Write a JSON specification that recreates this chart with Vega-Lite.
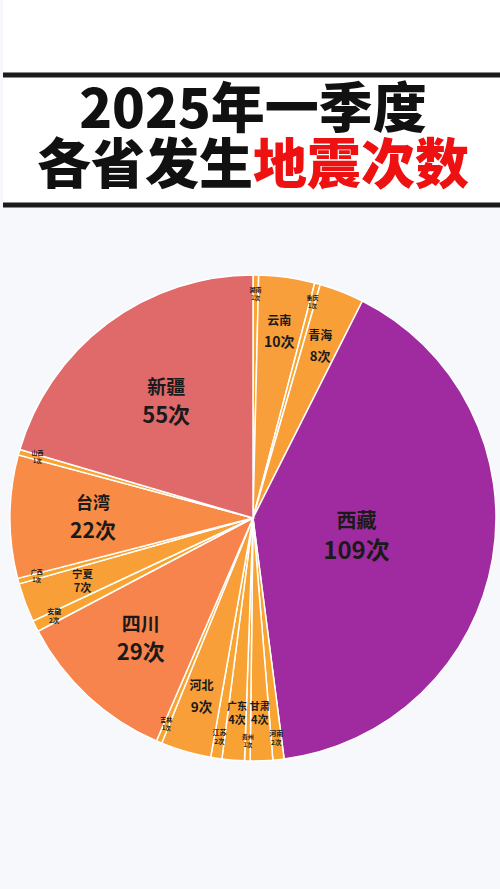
{
  "$schema": "https://vega.github.io/schema/vega-lite/v6.json",
  "background": "#F7F8FC",
  "padding": 0,
  "spacing": 0,
  "config": {"view": {"stroke": null}, "font": "Noto Sans CJK SC"},
  "datasets": {
    "provinces": [
      {"rank": 1, "name": "湖南", "count": 1, "label": "1次"},
      {"rank": 2, "name": "云南", "count": 10, "label": "10次"},
      {"rank": 3, "name": "重庆", "count": 1, "label": "1次"},
      {"rank": 4, "name": "青海", "count": 8, "label": "8次"},
      {"rank": 5, "name": "西藏", "count": 109, "label": "109次"},
      {"rank": 6, "name": "河南", "count": 2, "label": "2次"},
      {"rank": 7, "name": "甘肃", "count": 4, "label": "4次"},
      {"rank": 8, "name": "贵州", "count": 1, "label": "1次"},
      {"rank": 9, "name": "广东", "count": 4, "label": "4次"},
      {"rank": 10, "name": "江苏", "count": 2, "label": "2次"},
      {"rank": 11, "name": "河北", "count": 9, "label": "9次"},
      {"rank": 12, "name": "吉林", "count": 1, "label": "1次"},
      {"rank": 13, "name": "四川", "count": 29, "label": "29次"},
      {"rank": 14, "name": "安徽", "count": 2, "label": "2次"},
      {"rank": 15, "name": "宁夏", "count": 7, "label": "7次"},
      {"rank": 16, "name": "广西", "count": 1, "label": "1次"},
      {"rank": 17, "name": "台湾", "count": 22, "label": "22次"},
      {"rank": 18, "name": "山西", "count": 1, "label": "1次"},
      {"rank": 19, "name": "新疆", "count": 55, "label": "55次"}
    ]
  },
  "vconcat": [
    {
      "width": 500,
      "height": 72,
      "view": {"fill": "white", "stroke": null},
      "data": {"values": [{"t": ""}]},
      "mark": {"type": "text"},
      "encoding": {"text": {"field": "t", "type": "nominal"}}
    },
    {
      "width": 500,
      "height": 130,
      "view": {"fill": "white", "stroke": "#1c1c1c", "strokeWidth": 5, "strokeDash": [500, 130]},
      "data": {"values": [
        {"line": "1", "part": "full", "text": "2025年一季度"},
        {"line": "2", "part": "left", "text": "各省发生"},
        {"line": "2", "part": "right", "text": "地震次数"}
      ]},
      "encoding": {
        "y": {"field": "line", "type": "ordinal", "axis": null, "scale": {"padding": 0.65}},
        "text": {"field": "text", "type": "nominal"}
      },
      "layer": [
        {"transform": [{"filter": "datum.part == 'full'"}],
         "mark": {"type": "text", "align": "center", "baseline": "middle", "fontSize": 54, "fontWeight": 900, "font": "Noto Sans CJK SC", "color": "#111111"}},
        {"transform": [{"filter": "datum.part == 'left'"}],
         "mark": {"type": "text", "align": "right", "baseline": "middle", "fontSize": 54, "fontWeight": 900, "font": "Noto Sans CJK SC", "color": "#111111"}},
        {"transform": [{"filter": "datum.part == 'right'"}],
         "mark": {"type": "text", "align": "left", "baseline": "middle", "fontSize": 54, "fontWeight": 900, "font": "Noto Sans CJK SC", "color": "#EE1111"}}
      ]
    },
    {
      "width": 500,
      "height": 620,
      "data": {"name": "provinces"},
      "encoding": {
        "theta": {"field": "count", "type": "quantitative", "stack": true},
        "order": {"field": "rank", "type": "quantitative"},
        "radius": {"field": "count", "type": "quantitative",
          "scale": {"type": "linear", "zero": false, "domain": [1, 2, 4, 7, 10, 22, 29, 55, 109], "range": [224, 222, 196, 182, 188, 160, 165, 145, 105]}}
      },
      "layer": [
        {
          "mark": {"type": "arc", "outerRadius": 243, "stroke": "white", "strokeWidth": 1.5},
          "encoding": {
            "radius": null,
            "color": {"field": "count", "type": "quantitative", "legend": null,
              "scale": {"type": "linear", "domain": [1, 10, 22, 29, 55, 109],
                "range": ["#F9A430", "#F89E3A", "#F88C46", "#F6844C", "#E0696A", "#A02BA1"]}}
          }
        },
        {
          "mark": {"type": "text", "baseline": "bottom", "dy": -4, "fontWeight": "bold", "font": "Noto Sans CJK SC", "color": "#1a1a1a"},
          "encoding": {
            "text": {"condition": {"test": "datum.count >= 8", "field": "name", "type": "nominal"}, "value": ""},
            "size": {"field": "count", "type": "quantitative", "legend": null,
              "scale": {"type": "linear", "zero": false, "domain": [1, 2, 4, 8, 10, 22, 29, 55, 109], "range": [6, 7, 10, 12, 12, 17, 19, 19, 20]}}
          }
        },
        {
          "mark": {"type": "text", "baseline": "top", "dy": 4, "fontWeight": "bold", "font": "Noto Sans CJK SC", "color": "#1a1a1a"},
          "encoding": {
            "text": {"condition": {"test": "datum.count >= 8", "field": "label", "type": "nominal"}, "value": ""},
            "size": {"field": "count", "type": "quantitative", "legend": null,
              "scale": {"type": "linear", "zero": false, "domain": [1, 2, 4, 8, 10, 22, 29, 55, 109], "range": [5.5, 6.5, 11, 13, 14, 21, 22, 22, 24]}}
          }
        },
        {
          "mark": {"type": "text", "baseline": "bottom", "dy": -1.5, "fontWeight": "bold", "font": "Noto Sans CJK SC", "color": "#1a1a1a"},
          "encoding": {
            "text": {"condition": {"test": "datum.count < 8", "field": "name", "type": "nominal"}, "value": ""},
            "size": {"field": "count", "type": "quantitative", "legend": null,
              "scale": {"type": "linear", "zero": false, "domain": [1, 2, 4, 7, 109], "range": [6, 7, 10, 10.5, 10.5]}}
          }
        },
        {
          "mark": {"type": "text", "baseline": "top", "dy": 1.5, "fontWeight": "bold", "font": "Noto Sans CJK SC", "color": "#1a1a1a"},
          "encoding": {
            "text": {"condition": {"test": "datum.count < 8", "field": "label", "type": "nominal"}, "value": ""},
            "size": {"field": "count", "type": "quantitative", "legend": null,
              "scale": {"type": "linear", "zero": false, "domain": [1, 2, 4, 7, 109], "range": [5.5, 6.5, 11, 11, 11]}}
          }
        }
      ],
      "resolve": {"scale": {"size": "independent"}}
    },
    {
      "width": 500,
      "height": 80,
      "data": {"values": [{"t": ""}]},
      "mark": {"type": "text"},
      "encoding": {"text": {"field": "t", "type": "nominal"}}
    }
  ]
}
